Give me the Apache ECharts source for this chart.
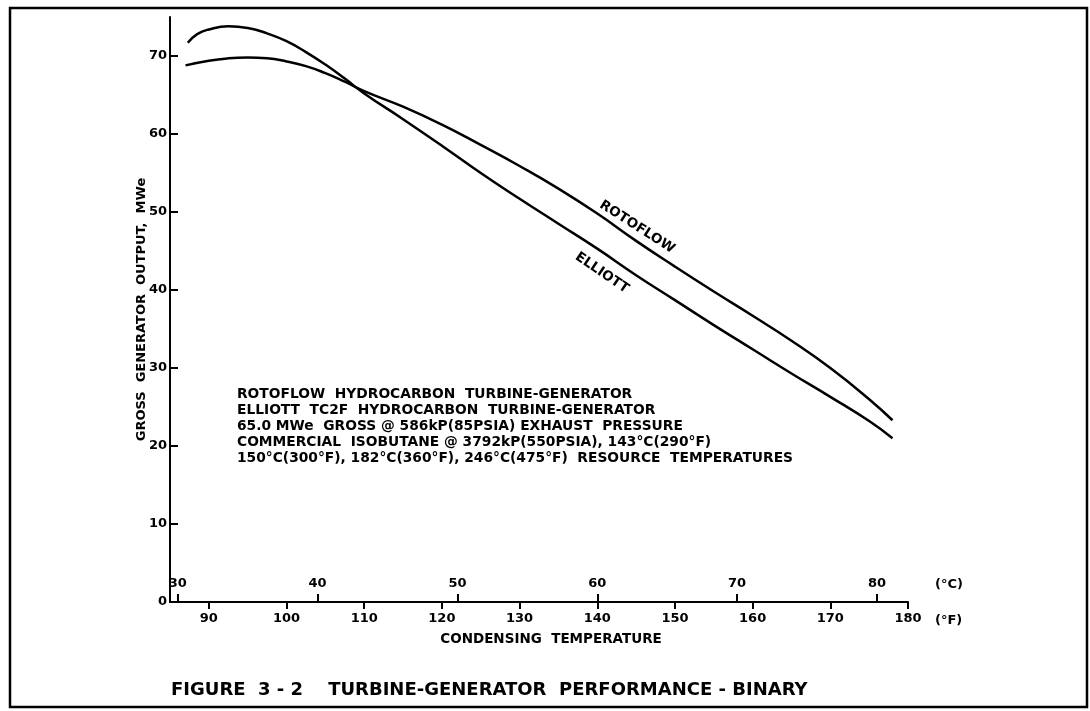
<!DOCTYPE html>
<html>
<head>
<meta charset="utf-8">
<script src="https://cdn.jsdelivr.net/npm/echarts@6/dist/echarts.min.js"></script>
<style>html,body{margin:0;padding:0;background:#fff;}#c{width:1090px;height:711px;}</style>
</head>
<body>
<div id="c"></div>
<script>
// ---- data ----
const fahrenheitTicks = [90, 100, 110, 120, 130, 140, 150, 160, 170, 180];
const celsiusTicks = [30, 40, 50, 60, 70, 80];
const outputTicks = [0, 10, 20, 30, 40, 50, 60, 70];

const rotoflowF  = [87, 90, 92.5, 95, 97.5, 100, 102.5, 105, 107.5, 110, 115, 120, 125, 130, 135, 140, 145, 150, 155, 160, 165, 170, 175, 178];
const rotoflowMW = [68.8, 69.4, 69.7, 69.8, 69.7, 69.3, 68.7, 67.8, 66.7, 65.5, 63.5, 61.2, 58.6, 55.9, 53.0, 49.8, 46.3, 43.0, 39.8, 36.7, 33.5, 30.0, 26.0, 23.3];

const elliottF  = [87.3, 88.5, 90, 92.5, 95, 97.5, 100, 102.5, 105, 107.5, 110, 115, 120, 125, 130, 135, 140, 145, 150, 155, 160, 165, 170, 175, 178];
const elliottMW = [71.7, 72.8, 73.4, 73.8, 73.6, 72.9, 71.9, 70.5, 68.9, 67.1, 65.2, 61.9, 58.5, 55.0, 51.7, 48.5, 45.3, 41.9, 38.7, 35.5, 32.4, 29.3, 26.3, 23.2, 21.0];

const noteLines = [
  'ROTOFLOW  HYDROCARBON  TURBINE-GENERATOR',
  'ELLIOTT  TC2F  HYDROCARBON  TURBINE-GENERATOR',
  '65.0 MWe  GROSS @ 586kP(85PSIA) EXHAUST  PRESSURE',
  'COMMERCIAL  ISOBUTANE @ 3792kP(550PSIA), 143°C(290°F)',
  '150°C(300°F), 182°C(360°F), 246°C(475°F)  RESOURCE  TEMPERATURES'
];
const figureTitle = 'FIGURE  3 - 2    TURBINE-GENERATOR  PERFORMANCE - BINARY';

const fMin = 85, fMax = 180;
const toC = f => (f - 32) / 1.8;
const zip = (xs, ys) => xs.map((x, i) => [x, ys[i]]);

const FONT = 'DejaVu Sans';
const chart = echarts.init(document.getElementById('c'), null, {renderer: 'canvas'});

chart.setOption({
  backgroundColor: '#fff',
  animation: false,
  title: {
    text: figureTitle,
    left: 166, top: 676,
    textStyle: {fontFamily: FONT, fontWeight: 'bold', fontSize: 18, color: '#000'}
  },
  grid: {left: 170, right: 182, top: 17, bottom: 109, containLabel: false},
  xAxis: [
    {
      type: 'value', min: fMin, max: fMax, position: 'bottom',
      name: 'CONDENSING  TEMPERATURE', nameLocation: 'middle', nameGap: 30, nameMoveOverlap: false,
      nameTextStyle: {fontFamily: FONT, fontWeight: 'bold', fontSize: 13.5, color: '#000', padding: [0, 0, 0, 24]},
      axisLine: {show: true, lineStyle: {color: '#000', width: 2}},
      axisTick: {show: true, inside: false, length: 7, lineStyle: {color: '#000', width: 2}, customValues: fahrenheitTicks},
      axisLabel: {show: true, margin: 10, fontFamily: FONT, fontWeight: 'bold', fontSize: 13, color: '#000', customValues: fahrenheitTicks},
      splitLine: {show: false}
    },
    {
      type: 'value', min: toC(fMin), max: toC(fMax), position: 'bottom', offset: 0,
      axisLine: {show: false},
      axisTick: {show: true, inside: true, length: 8, lineStyle: {color: '#000', width: 2}, customValues: celsiusTicks},
      axisLabel: {show: true, inside: true, margin: 12, fontFamily: FONT, fontWeight: 'bold', fontSize: 13, color: '#000', customValues: celsiusTicks},
      splitLine: {show: false}
    }
  ],
  yAxis: {
    type: 'value', min: 0, max: 75,
    name: 'GROSS  GENERATOR  OUTPUT,  MWe', nameLocation: 'middle', nameGap: 22, nameMoveOverlap: false,
    nameTextStyle: {fontFamily: FONT, fontWeight: 'bold', fontSize: 13, color: '#000'},
    axisLine: {show: true, lineStyle: {color: '#000', width: 2}},
    axisTick: {show: true, inside: true, length: 8, lineStyle: {color: '#000', width: 2}, customValues: outputTicks},
    axisLabel: {show: true, margin: 3, fontFamily: FONT, fontWeight: 'bold', fontSize: 13, color: '#000', customValues: outputTicks},
    splitLine: {show: false}
  },
  series: [
    {
      name: 'ROTOFLOW', type: 'line', xAxisIndex: 0, yAxisIndex: 0,
      data: zip(rotoflowF, rotoflowMW), smooth: 0.5, showSymbol: false,
      lineStyle: {color: '#000', width: 2.5}
    },
    {
      name: 'ELLIOTT', type: 'line', xAxisIndex: 0, yAxisIndex: 0,
      data: zip(elliottF, elliottMW), smooth: 0.5, showSymbol: false,
      lineStyle: {color: '#000', width: 2.5}
    }
  ],
  graphic: [
    {type: 'rect', shape: {x: 10, y: 8, width: 1077, height: 699}, style: {fill: null, stroke: '#000', lineWidth: 2.5}, silent: true},
    {type: 'text', x: 237, y: 387, style: {text: noteLines.join('\n'), font: 'bold 13.8px "DejaVu Sans"', lineHeight: 15.8, fill: '#000'}},
    {type: 'text', x: 637, y: 227, rotation: -0.57, style: {text: 'ROTOFLOW', font: 'bold 13.5px "DejaVu Sans"', fill: '#000', align: 'center', verticalAlign: 'middle'}},
    {type: 'text', x: 602, y: 273, rotation: -0.6, style: {text: 'ELLIOTT', font: 'bold 13.5px "DejaVu Sans"', fill: '#000', align: 'center', verticalAlign: 'middle'}},
    {type: 'text', x: 935, y: 585, style: {text: '(°C)', font: 'bold 13px "DejaVu Sans"', fill: '#000', verticalAlign: 'middle'}},
    {type: 'text', x: 935, y: 621, style: {text: '(°F)', font: 'bold 13px "DejaVu Sans"', fill: '#000', verticalAlign: 'middle'}}
  ]
});
</script>
</body>
</html>
